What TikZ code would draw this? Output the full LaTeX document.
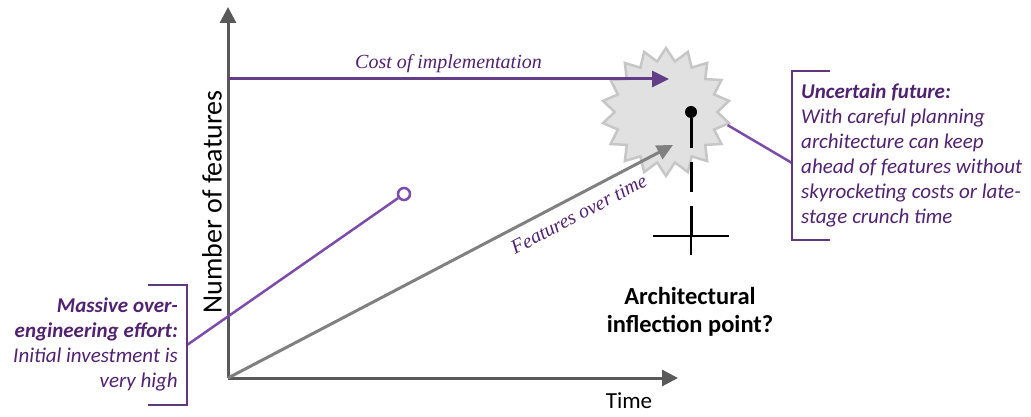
\documentclass[tikz,border=0pt]{standalone}
\usepackage{fontspec}
\setmainfont{Carlito}
\newfontfamily\labelfont{Liberation Serif}
\usetikzlibrary{shapes.geometric,arrows.meta,positioning,calc}
\definecolor{axisgray}{RGB}{89,89,89}
\definecolor{linegray}{RGB}{128,128,128}
\definecolor{lavender}{RGB}{124,76,170}
\definecolor{plum}{RGB}{80,34,112}
\definecolor{burstfill}{RGB}{225,225,225}
\definecolor{burstline}{RGB}{198,198,198}

\begin{document}
\begin{tikzpicture}[
        x=1pt, y=-1pt,
        axis/.style={draw=axisgray, line width=3pt, -{Triangle[length=16pt, width=16pt]}},
        growth/.style={draw=linegray, line width=3pt, -{Triangle[length=16pt, width=15pt]}},
        cost/.style={draw=lavender!80!black, line width=3pt, -{Triangle[length=17pt, width=16pt]}},
        link/.style={draw=lavender, line width=2.5pt},
        bracket/.style={draw=plum!90, line width=2.5pt},
        burst/.style={star, star points=18, star point ratio=1.25, minimum size=128pt, inner sep=0pt, fill=burstfill, draw=burstline, line width=2.5pt},
        note/.style={text=plum, font=\fontsize{21}{25}\selectfont\itshape, inner sep=0pt},
        tag/.style={text=plum, font=\labelfont\fontsize{20}{23}\selectfont\itshape},
        axislabel/.style={font=\fontsize{23}{27}\selectfont}
    ]
        \useasboundingbox (0,0) rectangle (1031,417);

        % Axes
        \coordinate (origin) at (228,378);
        \coordinate (ytip) at (228,7);
        \coordinate (xtip) at (678,378);
        \draw[axis] (origin) -- (ytip);
        \draw[axis] (origin) -- (xtip);
        \node[axislabel, font=\fontsize{28}{32}\selectfont, rotate=90] (ylabel) at (212,202) {Number of features};
        \node[axislabel] (xlabel) at (629,401) {Time};

        % Inflection point
        \node[burst] (burst) at (666,112) {};
        \node[circle, fill=black, minimum size=12pt, inner sep=0pt] (dot) at (691,112) {};
        \coordinate (cross) at (691,236);
        \draw[black, line width=3pt, dash pattern=on 30pt off 14pt] (dot.south) -- (cross);
        \draw[black, line width=2.5pt] (653,236) -- (729,236) (691,207) -- (691,255);
        \node[font=\fontsize{24.5}{28}\selectfont\bfseries, align=center] (inflection) at (690,312) {Architectural\\inflection point?};

        % Cost and features
        \coordinate (coststart) at (228,79);
        \coordinate (costend) at (669,79);
        \draw[cost] (coststart) -- node[tag, above=1pt] (costlabel) {Cost of implementation} (costend);
        \coordinate (featend) at (673,145);
        \draw[growth] (origin) -- node[tag, sloped, below=6pt, pos=0.77] (featlabel) {Features over time} (featend);

        % Over-engineering
        \node[circle, draw=lavender, fill=white, line width=2.5pt, minimum size=12pt, inner sep=0pt] (goal) at (404,194) {};
        \coordinate (lefttick) at (187,345);
        \draw[link] (lefttick) -- (goal);
        \draw[bracket] (148,285) -- (187,285) -- (187,405) -- (148,405);
        \node[note, align=right, anchor=east] (leftnote) at (178,344) {\textbf{Massive over-}\\\textbf{engineering effort:}\\Initial investment is\\very high};

        % Uncertain future
        \coordinate (righttick) at (792,163);
        \draw[link] (burst.-12) -- (righttick);
        \draw[bracket] (830,71) -- (792,71) -- (792,240) -- (830,240);
        \node[note, align=left, anchor=west] (rightnote) at (801,155) {\textbf{Uncertain future:}\\With careful planning\\architecture can keep\\ahead of features without\\skyrocketing costs or late-\\stage crunch time};

    \end{tikzpicture}
\end{document}
